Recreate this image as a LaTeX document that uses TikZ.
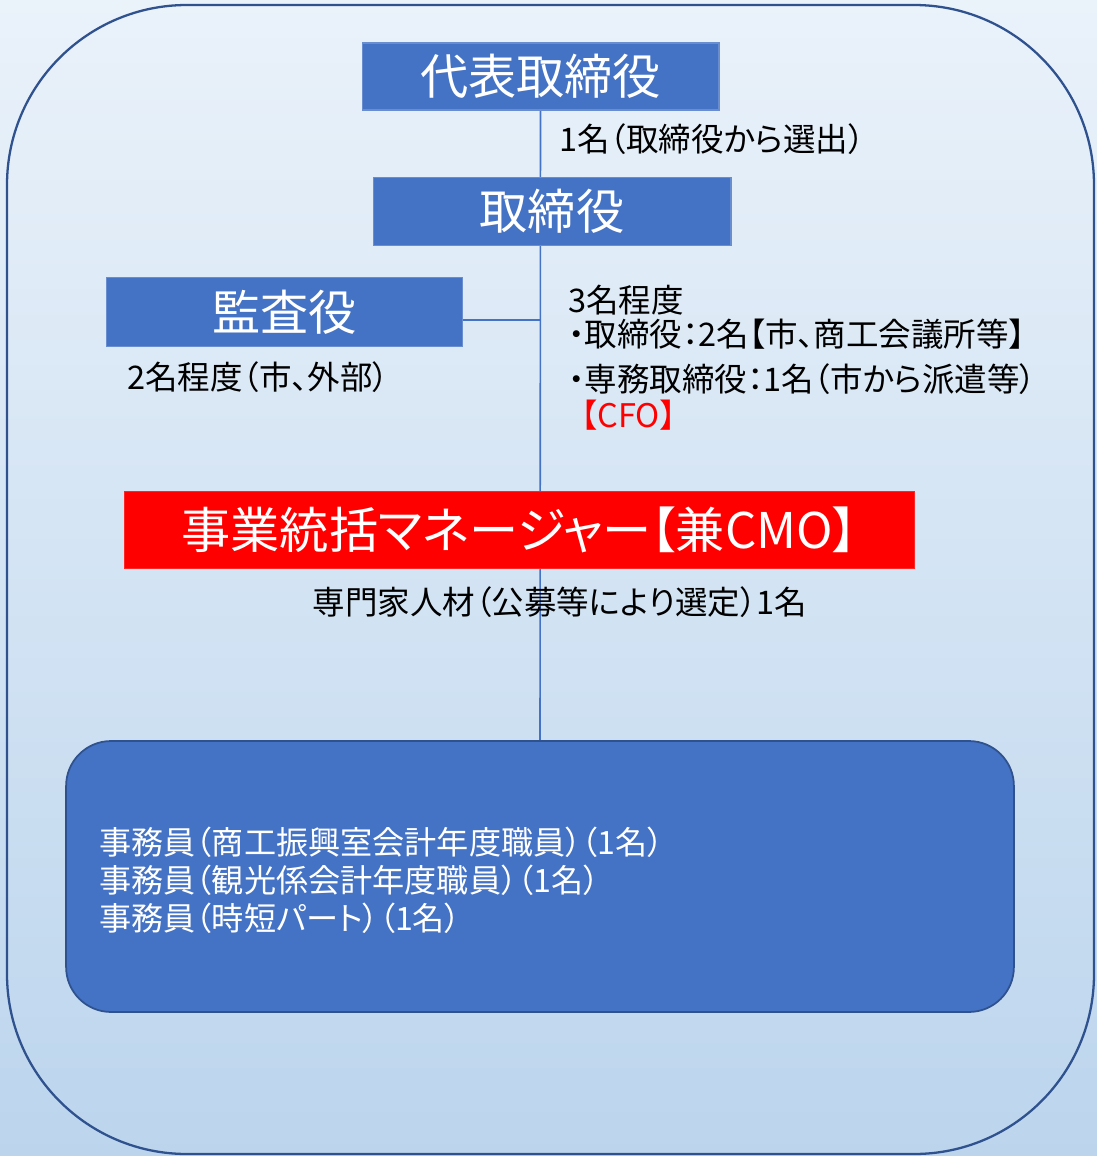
\documentclass[tikz,border=0pt]{standalone}
\usepackage{fontspec}
\newfontfamily\jp[RawFeature=+palt]{Noto Sans CJK JP}
\definecolor{boxblue}{HTML}{4472C4}
\definecolor{edgeblue}{HTML}{2F528F}
\definecolor{bgtop}{HTML}{EAF2FA}
\definecolor{bgbot}{HTML}{BCD5ED}
\definecolor{redbox}{HTML}{FF0000}
\pgfdeclarelayer{bg}
\pgfdeclarelayer{lines}
\pgfsetlayers{bg,lines,main}
\tikzset{
  rolebox/.style={fill=boxblue, draw=boxblue!80!white, line width=0.6pt, text=white, inner sep=0pt,
    font=\jp\fontsize{27.4pt}{32pt}\selectfont},
  redrole/.style={fill=redbox, draw=redbox!85!white, line width=0.6pt, text=white, inner sep=0pt,
    font=\jp\fontsize{28pt}{32pt}\selectfont},
  note/.style={inner sep=0pt, anchor=west, text=black, font=\jp\fontsize{18.5pt}{22pt}\selectfont},
  conn/.style={draw=boxblue, line width=0.9pt},
}
\begin{document}
\begin{tikzpicture}[x=0.02cm,y=-0.02cm]
\useasboundingbox (0,0) rectangle (1097,1156);
\begin{pgfonlayer}{bg}
\shade[top color=bgtop, bottom color=bgbot] (0,0) rectangle (1097,1156);
\draw[edgeblue, line width=1.3pt, rounded corners=3.6cm] (7,5) rectangle (1094,1154);
\end{pgfonlayer}

% nodes
\node[rolebox, minimum width=7.14cm, minimum height=1.34cm] (top) at (540.5,76.5) {代表取締役};
\node[rolebox, minimum width=7.16cm, minimum height=1.36cm] (dir) at (552,211.5) {取締役};
\node[rolebox, minimum width=7.14cm, minimum height=1.38cm] (aud) at (284.5,312) {監査役};
\node[redrole, minimum width=15.8cm, minimum height=1.54cm] (mgr) at (519.5,530) {事業統括マネージャー【兼CMO】};
\node[draw=edgeblue, fill=boxblue, line width=1pt, rounded corners=0.9cm, minimum width=18.96cm, minimum height=5.42cm, inner sep=0pt] (staff) at (540,876.5) {};

% connectors
\begin{pgfonlayer}{lines}
\draw[conn] (top.south) -- (staff.north);
\draw[conn] ([yshift=-0.16cm]aud.east) -- ([yshift=-0.16cm]aud.east -| top.south);
\end{pgfonlayer}

% notes
\node[note] (n1) at (559,139) {1名（取締役から選出）};
\node[note] (n2) at (127,377) {2名程度（市、外部）};
\node[note] (n3) at (568,300) {3名程度};
\node[note] (n4) at (568,334) {・取締役：2名【市、商工会議所等】};
\node[note] (n5) at (568,379) {・専務取締役：1名（市から派遣等）};
\node[note, text=redbox] (n6) at (581,415) {【CFO】};
\node[note, anchor=center] (n7) at (560,602) {専門家人材（公募等により選定）1名};

\node[inner sep=0pt, anchor=west, align=left, text=white, font=\jp\fontsize{18.3pt}{21.6pt}\selectfont] (stafftext) at (99,880) {事務員（商工振興室会計年度職員）（1名）\\事務員（観光係会計年度職員）（1名）\\事務員（時短パート）（1名）};
\end{tikzpicture}
\end{document}
